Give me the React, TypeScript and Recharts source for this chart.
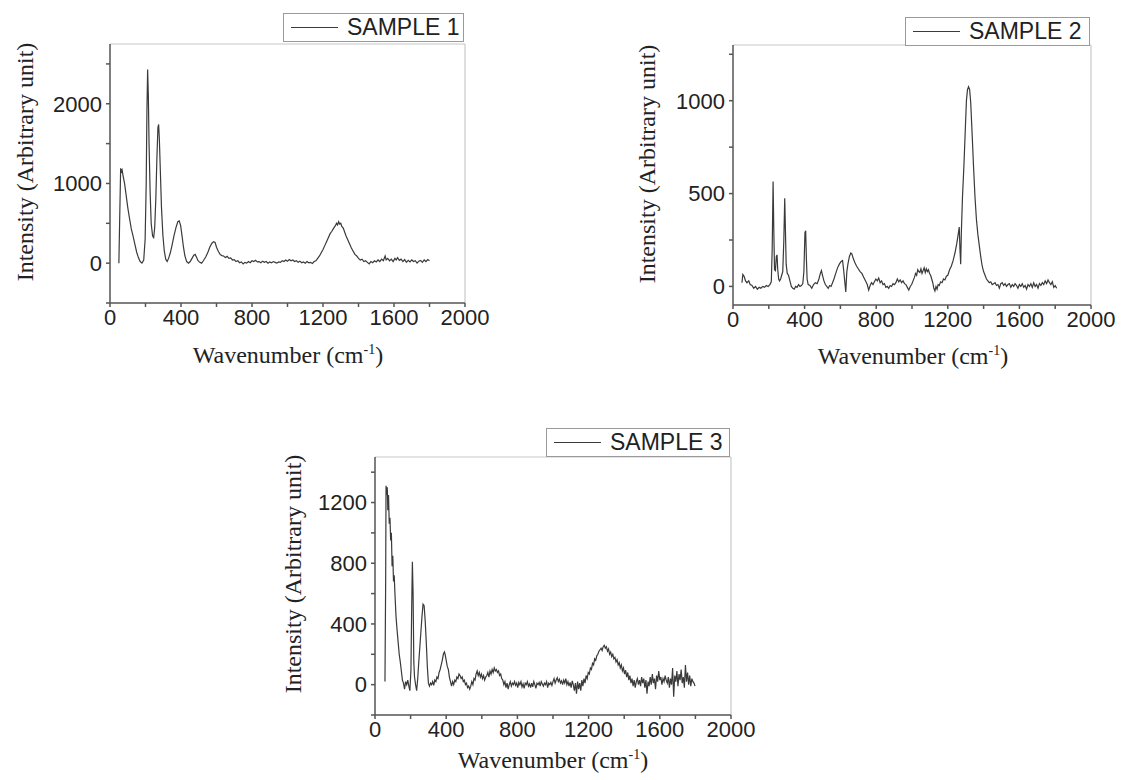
import React from "react";
import { Legend, Line, LineChart, ReferenceLine, XAxis, YAxis } from "recharts";

// [wavenumber (cm-1), intensity]
const sample1: [number, number][] = [
  [50, 0], [55, 600], [60, 1190], [64, 1150], [68, 1170], [75, 1080], [82, 1000], [90, 870],
  [100, 700], [110, 560], [120, 430], [130, 340], [140, 240], [150, 140], [160, 70], [170, 20],
  [180, 0], [190, 40], [198, 300], [204, 1000], [208, 1900], [212, 2430], [216, 2100], [220, 1500],
  [226, 900], [232, 500], [240, 340], [246, 320], [252, 450], [258, 800], [264, 1300], [270, 1700],
  [274, 1740], [278, 1560], [283, 1200], [290, 700], [298, 350], [306, 150], [314, 50], [322, 20],
  [330, 60], [340, 130], [350, 230], [360, 340], [372, 450], [382, 520], [390, 530], [398, 470],
  [406, 340], [414, 200], [422, 90], [432, 20], [442, 0], [452, 20], [462, 60], [472, 100],
  [480, 110], [488, 70], [496, 30], [506, 10], [516, 0], [526, 30], [540, 80], [552, 140],
  [562, 200], [574, 250], [584, 270], [592, 260], [600, 200], [610, 150], [620, 110], [630, 95],
  [640, 90], [650, 70], [660, 85], [670, 60], [680, 65], [690, 40], [700, 45], [710, 20],
  [720, 30], [730, 5], [740, 15], [750, -10], [760, 10], [770, 0], [780, 20], [790, 5],
  [800, 30], [810, 20], [820, 35], [830, 15], [840, 20], [850, 5], [860, 25], [870, 10],
  [880, 20], [890, 0], [900, 15], [910, 5], [920, 20], [930, 10], [940, 0], [950, 15],
  [960, 10], [970, 30], [980, 20], [990, 40], [1000, 25], [1010, 45], [1020, 30], [1030, 40],
  [1040, 20], [1050, 30], [1060, 10], [1070, 25], [1080, 5], [1090, 15], [1100, 0], [1110, 20],
  [1120, 5], [1130, 10], [1140, -5], [1150, 20], [1160, 30], [1170, 60], [1180, 90], [1190, 130],
  [1200, 170], [1210, 220], [1220, 270], [1230, 320], [1240, 370], [1250, 400], [1260, 440], [1270, 470],
  [1276, 500], [1282, 480], [1288, 520], [1294, 490], [1300, 500], [1306, 460], [1314, 440], [1322, 390],
  [1330, 340], [1340, 290], [1350, 240], [1360, 190], [1370, 150], [1380, 110], [1390, 90], [1400, 60],
  [1410, 40], [1420, 50], [1430, 20], [1440, 30], [1450, 10], [1460, -10], [1470, 20], [1480, 5],
  [1490, 30], [1500, 15], [1510, 40], [1520, 20], [1530, 50], [1540, 30], [1550, 90], [1556, 40],
  [1565, 60], [1575, 30], [1585, 50], [1595, 20], [1605, 60], [1612, 40], [1620, 70], [1630, 35],
  [1640, 50], [1650, 20], [1660, 45], [1670, 10], [1680, 35], [1690, 15], [1700, 40], [1710, 20],
  [1720, 30], [1730, 0], [1740, 25], [1750, 35], [1760, 10], [1770, 40], [1780, 20], [1790, 45],
  [1800, 30],
];

const sample2: [number, number][] = [
  [50, 20], [55, 65], [62, 55], [70, 30], [78, 20], [88, 30], [96, 10], [106, 5],
  [116, -10], [126, 0], [136, -15], [146, -5], [156, -10], [166, 0], [176, -5], [186, 5],
  [196, 0], [206, 10], [214, 25], [219, 200], [224, 565], [228, 300], [232, 90], [237, 85],
  [242, 160], [246, 170], [250, 90], [255, 40], [260, 30], [266, 40], [272, 60], [278, 80],
  [284, 250], [289, 475], [293, 300], [297, 120], [303, 70], [310, 60], [318, 30], [326, 0],
  [334, -10], [342, -15], [350, 0], [358, -5], [366, 10], [374, 0], [382, 5], [390, 15],
  [396, 80], [402, 290], [406, 300], [410, 150], [414, 40], [420, 10], [430, 5], [440, -10],
  [450, 10], [460, 20], [470, 15], [480, 40], [488, 70], [494, 85], [500, 60], [508, 30],
  [516, 10], [524, 0], [532, -10], [540, 5], [548, 0], [556, 20], [564, 40], [574, 70],
  [584, 100], [594, 120], [604, 135], [612, 140], [618, 90], [624, 30], [630, -30], [636, 80],
  [642, 120], [650, 160], [658, 180], [664, 175], [672, 150], [680, 130], [690, 110], [700, 95],
  [710, 80], [720, 70], [730, 50], [740, 30], [750, 10], [758, -20], [766, 5], [774, 20],
  [782, 10], [790, 25], [798, 40], [806, 30], [814, 45], [822, 20], [830, 30], [838, 10],
  [846, 15], [854, -5], [862, 0], [870, -10], [878, 5], [886, 0], [894, 15], [902, 10],
  [910, 20], [918, 40], [926, 25], [934, 35], [942, 20], [950, 30], [958, 15], [966, 10],
  [974, -5], [982, -20], [990, 0], [998, 10], [1006, 30], [1014, 50], [1020, 70], [1026, 60],
  [1032, 90], [1038, 80], [1044, 75], [1050, 95], [1056, 70], [1062, 85], [1068, 100], [1074, 75],
  [1080, 95], [1086, 80], [1092, 90], [1098, 70], [1104, 60], [1110, 40], [1116, 20], [1122, -10],
  [1128, -25], [1134, 0], [1140, -15], [1146, 10], [1152, 5], [1160, 25], [1168, 20], [1176, 40],
  [1184, 35], [1192, 55], [1200, 60], [1210, 90], [1220, 110], [1230, 140], [1240, 180], [1250, 230],
  [1258, 280], [1264, 320], [1268, 200], [1272, 120], [1276, 300], [1282, 480], [1290, 650], [1298, 850],
  [1304, 1000], [1310, 1060], [1316, 1075], [1322, 1060], [1328, 990], [1336, 820], [1344, 640], [1352, 480],
  [1360, 360], [1368, 280], [1376, 220], [1384, 160], [1392, 110], [1400, 80], [1408, 60], [1416, 40],
  [1424, 30], [1432, 20], [1440, 25], [1448, 10], [1456, 15], [1464, 20], [1472, 5], [1480, 10],
  [1488, -10], [1496, 15], [1504, 20], [1512, 5], [1520, 15], [1528, 0], [1536, 10], [1544, 15],
  [1552, -5], [1560, 10], [1568, 0], [1576, 15], [1584, 5], [1592, -10], [1600, 10], [1608, 0],
  [1616, 15], [1624, -5], [1632, 5], [1640, -15], [1648, 10], [1656, 0], [1664, 15], [1672, -5],
  [1680, 20], [1688, 0], [1696, 10], [1704, -10], [1712, 15], [1720, 5], [1728, 20], [1736, 10],
  [1744, 30], [1752, 15], [1760, 35], [1768, 20], [1776, 10], [1784, 25], [1792, -5], [1800, 5],
  [1808, -10],
];

const sample3: [number, number][] = [
  [56, 20], [60, 700], [62, 1310], [66, 1250], [69, 1300], [72, 1150], [76, 1250], [80, 1060],
  [84, 1100], [88, 950], [92, 1000], [96, 780], [100, 850], [104, 680], [108, 720], [112, 600],
  [118, 450], [124, 360], [130, 280], [136, 200], [142, 150], [148, 90], [154, 30], [160, 10],
  [166, -30], [172, 20], [178, 0], [184, 30], [190, -10], [196, -40], [202, 100], [206, 500],
  [210, 810], [214, 600], [218, 150], [222, 50], [228, 0], [234, -40], [240, 40], [246, 150],
  [252, 250], [258, 350], [264, 450], [270, 530], [276, 520], [282, 420], [288, 280], [294, 120],
  [300, 10], [306, -10], [312, 10], [318, 0], [324, 20], [330, -5], [336, 30], [342, 20],
  [348, 50], [354, 40], [360, 80], [366, 100], [372, 130], [378, 160], [384, 200], [390, 215],
  [394, 200], [400, 160], [406, 120], [412, 100], [418, 50], [424, 20], [430, -10], [436, 20],
  [442, 0], [448, 30], [454, 20], [460, 50], [466, 40], [472, 70], [478, 60], [484, 40],
  [490, 50], [496, 20], [502, 30], [508, 0], [514, 10], [520, -20], [526, -10], [532, -30],
  [538, -10], [544, 20], [550, 0], [556, 40], [562, 30], [568, 70], [574, 90], [580, 60],
  [586, 80], [592, 50], [598, 70], [604, 40], [610, 60], [616, 30], [622, 50], [628, 60],
  [634, 80], [640, 50], [646, 90], [652, 70], [658, 100], [664, 80], [670, 110], [676, 90],
  [682, 100], [688, 80], [694, 90], [700, 60], [706, 70], [712, 40], [718, 30], [724, 0],
  [730, 20], [736, -20], [742, 10], [748, -30], [754, 0], [760, 20], [766, -10], [772, 10],
  [778, 0], [784, 20], [790, -5], [796, 10], [802, -20], [808, 15], [814, 0], [820, 20],
  [826, -15], [832, 5], [838, -25], [844, 10], [850, 0], [856, 20], [862, -10], [868, 5],
  [874, -20], [880, 10], [886, -15], [892, 20], [898, 0], [904, -25], [910, 10], [916, 0],
  [922, 15], [928, -10], [934, 20], [940, 5], [946, -10], [952, 10], [958, 0], [964, 20],
  [970, -20], [976, 10], [982, 0], [988, 15], [994, -5], [1000, 20], [1006, 40], [1012, 10],
  [1018, 30], [1024, 45], [1030, 20], [1036, 35], [1042, 10], [1048, 25], [1054, 0], [1060, 30],
  [1066, 10], [1072, 40], [1078, 0], [1084, 20], [1090, -10], [1096, 15], [1102, -20], [1108, 25],
  [1114, 0], [1120, -40], [1126, 10], [1132, -60], [1138, 20], [1144, -30], [1150, 10], [1156, -40],
  [1162, 30], [1168, -10], [1174, 40], [1180, 10], [1186, 60], [1192, 40], [1198, 80], [1204, 70],
  [1210, 110], [1216, 100], [1222, 140], [1228, 130], [1234, 170], [1240, 160], [1246, 190], [1252, 200],
  [1258, 220], [1264, 230], [1270, 240], [1276, 225], [1282, 250], [1288, 260], [1294, 240], [1300, 250],
  [1306, 220], [1312, 235], [1318, 200], [1324, 215], [1330, 185], [1336, 200], [1342, 170], [1348, 180],
  [1354, 150], [1360, 165], [1366, 130], [1372, 145], [1378, 110], [1384, 130], [1390, 90], [1396, 110],
  [1402, 70], [1408, 95], [1414, 50], [1420, 80], [1426, 30], [1432, 60], [1438, 10], [1444, 40],
  [1450, -10], [1456, 30], [1462, -20], [1468, 20], [1474, 40], [1480, 0], [1486, 30], [1492, -10],
  [1498, 50], [1504, 10], [1510, 40], [1516, -20], [1522, 30], [1528, -60], [1534, 20], [1540, -10],
  [1546, 50], [1552, 0], [1558, 70], [1564, 10], [1570, 40], [1576, -30], [1582, 60], [1588, 20],
  [1594, 90], [1600, 30], [1606, 50], [1612, 0], [1618, 40], [1624, 20], [1630, 60], [1636, 30],
  [1642, 10], [1648, 50], [1654, -20], [1660, 40], [1666, 0], [1672, 110], [1678, -80], [1684, 60],
  [1690, 20], [1696, 90], [1702, -10], [1708, 70], [1714, 30], [1720, 100], [1726, 10], [1732, 50],
  [1738, -20], [1744, 130], [1750, 20], [1756, 80], [1762, 0], [1768, 60], [1774, -10], [1780, 40],
  [1786, 20], [1792, 10], [1798, -10],
];

const xTicks = [0, 200, 400, 600, 800, 1000, 1200, 1400, 1600, 1800, 2000];
const xLabelled = [0, 400, 800, 1200, 1600, 2000];

const y1Ticks = [-500, 0, 500, 1000, 1500, 2000, 2500];
const y1Labelled = [0, 1000, 2000];
const y2Ticks = [0, 250, 500, 750, 1000, 1250];
const y2Labelled = [0, 500, 1000];
const y3Ticks = [-200, 0, 200, 400, 600, 800, 1000, 1200, 1400];
const y3Labelled = [0, 400, 800, 1200];

const AXIS = "#555";
const FRAME = "#c8c8c8";
const TRACE = "#3a3a3a";
const serif = "'Liberation Serif', 'Times New Roman', serif";
const sans = "'Liberation Sans', Arial, sans-serif";

type PanelProps = {
  name: string;
  points: [number, number][];
  yDomain: [number, number];
  yTicks: number[];
  yLabelled: number[];
  left: number;
  top: number;
  width: number;
  height: number;
  margin: { top: number; right: number; bottom: number; left: number };
  yAxisWidth: number;
  legendPos: { left: number; top: number; width: number };
  yTitle: { x: number; y: number };
  xTitle: { x: number; y: number };
};

function SpectrumPanel(p: PanelProps) {
  const data = p.points.map(([wn, intensity]) => ({ wn, intensity }));
  const tickStyle = { fontSize: 22, fontFamily: sans, fill: "#222" };

  return (
    <>
      <div style={{ position: "absolute", left: p.left, top: p.top }}>
        <LineChart width={p.width} height={p.height} data={data} margin={p.margin}>
          <XAxis
            type="number"
            dataKey="wn"
            domain={[0, 2000]}
            ticks={xTicks}
            interval={0}
            allowDataOverflow
            height={40}
            stroke={AXIS}
            strokeWidth={1.5}
            tickSize={4}
            tickMargin={2}
            tick={tickStyle}
            tickFormatter={(v: number) => (xLabelled.includes(v) ? String(v) : "")}
          />
          <YAxis
            type="number"
            domain={p.yDomain}
            ticks={p.yTicks}
            interval={0}
            allowDataOverflow
            width={p.yAxisWidth}
            stroke={AXIS}
            strokeWidth={1.5}
            tickSize={4}
            tickMargin={4}
            tick={tickStyle}
            tickFormatter={(v: number) => (p.yLabelled.includes(v) ? String(v) : "")}
          />
          <ReferenceLine y={p.yDomain[1]} stroke={FRAME} strokeWidth={1.2} />
          <ReferenceLine x={2000} stroke={FRAME} strokeWidth={1.2} />
          <Legend
            verticalAlign="top"
            wrapperStyle={{
              position: "absolute",
              left: p.legendPos.left,
              top: p.legendPos.top,
              width: p.legendPos.width,
            }}
            content={() => (
              <div
                style={{
                  boxSizing: "border-box",
                  width: p.legendPos.width,
                  height: 29,
                  border: "1px solid #9a9a9a",
                  display: "flex",
                  alignItems: "center",
                  background: "#fff",
                }}
              >
                <span
                  style={{
                    display: "inline-block",
                    width: 47,
                    height: 0,
                    borderTop: `1px solid ${TRACE}`,
                    marginLeft: 7,
                    marginRight: 9,
                  }}
                />
                <span
                  style={{
                    fontFamily: sans,
                    fontSize: 23,
                    color: "#222",
                    whiteSpace: "nowrap",
                  }}
                >
                  {p.name}
                </span>
              </div>
            )}
          />
          <Line
            type="linear"
            dataKey="intensity"
            name={p.name}
            stroke={TRACE}
            strokeWidth={1.2}
            dot={false}
            isAnimationActive={false}
          />
        </LineChart>
      </div>
      <div
        style={{
          position: "absolute",
          left: p.yTitle.x,
          top: p.yTitle.y,
          transform: "translate(-50%, -50%) rotate(-90deg)",
          fontFamily: serif,
          fontSize: 24,
          color: "#222",
          whiteSpace: "nowrap",
        }}
      >
        Intensity (Arbitrary unit)
      </div>
      <div
        style={{
          position: "absolute",
          left: p.xTitle.x,
          top: p.xTitle.y,
          transform: "translate(-50%, -50%)",
          fontFamily: serif,
          fontSize: 24,
          color: "#222",
          whiteSpace: "nowrap",
        }}
      >
        Wavenumber (cm<sup style={{ fontSize: 14 }}>-1</sup>)
      </div>
    </>
  );
}

export default function App() {
  return (
    <div
      style={{
        position: "absolute",
        left: 0,
        top: 0,
        width: 1122,
        height: 780,
        background: "#fff",
        overflow: "hidden",
      }}
    >
      <SpectrumPanel
        name="SAMPLE 1"
        points={sample1}
        yDomain={[-500, 2750]}
        yTicks={y1Ticks}
        yLabelled={y1Labelled}
        left={0}
        top={0}
        width={500}
        height={380}
        margin={{ top: 15, right: 35, bottom: 37, left: 0 }}
        yAxisWidth={110}
        legendPos={{ left: 283, top: 13, width: 181 }}
        yTitle={{ x: 25, y: 162 }}
        xTitle={{ x: 288, y: 355 }}
      />
      <SpectrumPanel
        name="SAMPLE 2"
        points={sample2}
        yDomain={[-100, 1300]}
        yTicks={y2Ticks}
        yLabelled={y2Labelled}
        left={620}
        top={0}
        width={502}
        height={380}
        margin={{ top: 16, right: 31, bottom: 35, left: 0 }}
        yAxisWidth={113}
        legendPos={{ left: 285, top: 17, width: 185 }}
        yTitle={{ x: 647, y: 164 }}
        xTitle={{ x: 913, y: 356 }}
      />
      <SpectrumPanel
        name="SAMPLE 3"
        points={sample3}
        yDomain={[-200, 1500]}
        yTicks={y3Ticks}
        yLabelled={y3Labelled}
        left={270}
        top={410}
        width={500}
        height={370}
        margin={{ top: 18, right: 39, bottom: 25, left: 0 }}
        yAxisWidth={105}
        legendPos={{ left: 276, top: 18, width: 184 }}
        yTitle={{ x: 293, y: 574 }}
        xTitle={{ x: 553, y: 760 }}
      />
    </div>
  );
}
